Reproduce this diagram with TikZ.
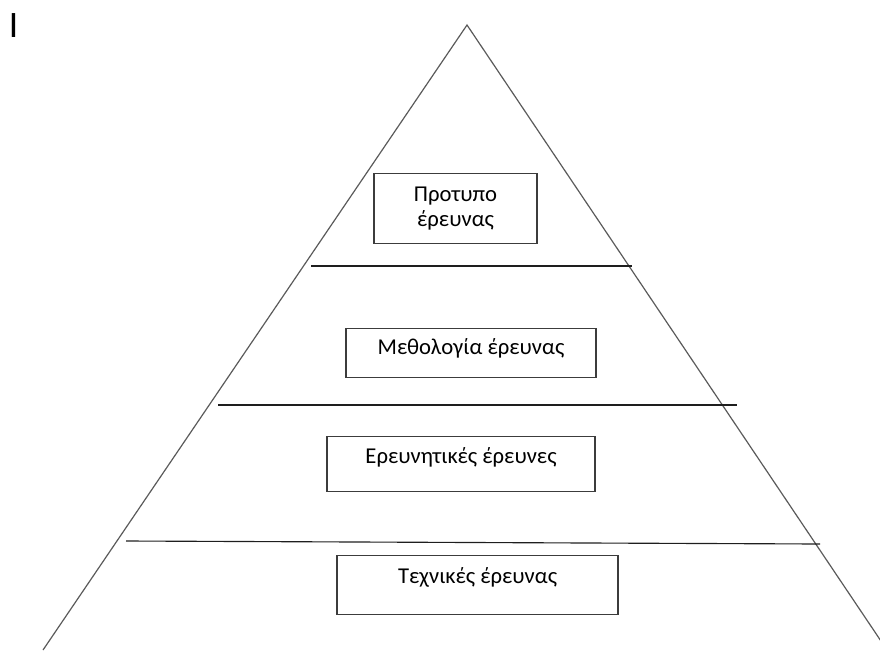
\documentclass[tikz,border=0pt]{standalone}
\usepackage{fontspec}
\setmainfont{Carlito}
\usepackage{tikz}
\usetikzlibrary{positioning}
\definecolor{edgegray}{HTML}{5A5A5A}
\definecolor{boxedge}{HTML}{3C3C3C}
\definecolor{levelline}{HTML}{1E1E1E}

\begin{document}
\begin{tikzpicture}[x=0.75pt,y=-0.75pt,
  lvl/.style={draw=boxedge,line width=1.1pt,fill=white,inner sep=0pt,anchor=north,font=\fontsize{17}{19}\selectfont,text=black},
  sep/.style={levelline,line width=0.85pt},
  side/.style={edgegray,line width=0.9pt}]
\useasboundingbox (0,0) rectangle (880,650);
% ---------- pyramid ----------
\begin{scope}
\clip (0,0) rectangle (880,650);
\coordinate (apex) at (467,25);
\draw[side] (43,650) -- (apex) -- (887,650);
\end{scope}
\foreach \a/\b in {{(311,266)}/{(632,266)},{(218,405)}/{(737,405)},{(126,541)}/{(820,544)}}{
  \draw[sep] \a -- \b;
}
% ---------- levels ----------
\node[lvl,minimum width=122.25pt,minimum height=52.5pt,align=center] (proto) at (455.5,173) {Προτυπο\\έρευνας};
\node[lvl,minimum width=187.5pt,text height=19.5pt,text depth=17.25pt] (method) at (471,328) {Μεθολογία έρευνας};
\node[lvl,minimum width=201pt,text height=20.25pt,text depth=21pt] (erevn) at (461,436) {Ερευνητικές έρευνες};
\node[lvl,minimum width=210.75pt,text height=21pt,text depth=23.25pt] (techn) at (477.5,555) {Τεχνικές έρευνας};
\node[font=\fontsize{28}{30}\selectfont,inner sep=0pt,anchor=base] (mark) at (13.5,37) {I};
\end{tikzpicture}
\end{document}
